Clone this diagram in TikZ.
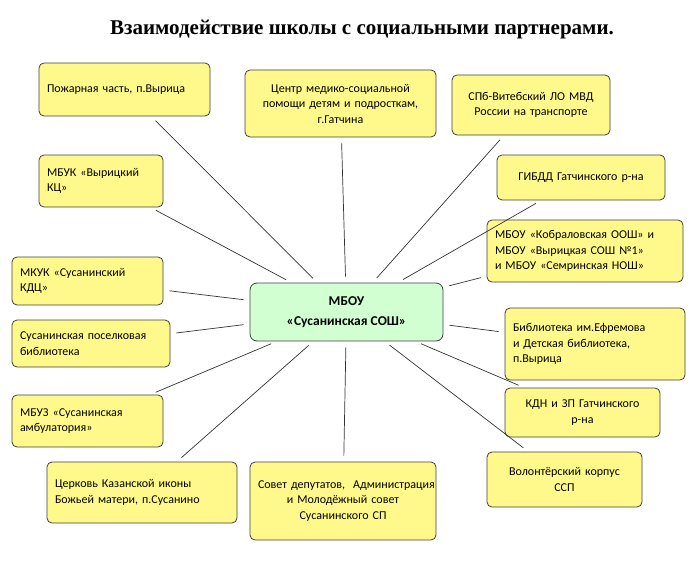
\documentclass[tikz,border=0pt]{standalone}
\usepackage{fontspec}
\setmainfont{Carlito}
\newfontfamily\titlefont{Liberation Serif}
\begin{document}
\begin{tikzpicture}[x=1pt,y=-1pt,
  bx/.style={draw=black!75,fill=yellow!45!white,rounded corners=5pt,line width=0.8pt,font=\fontsize{12}{15.5}\selectfont,inner sep=0pt},
  ln/.style={draw=black!80,line width=0.7pt,shorten >=6pt,shorten <=6pt}]
\useasboundingbox (0,0) rectangle (700,567);
\node[font=\titlefont\bfseries\fontsize{21}{23}\selectfont] (t) at (362,30) {Взаимодействие школы с социальными партнерами.};
\newcommand{\mybox}[7]{\node[bx,align=#7,minimum width=#4-#2,minimum height=#5-#3,text width=#4-#2-16] (#1) at ({(#2+#4)/2},{(#3+#5)/2}) {#6};}
\node[draw=black!75,fill=green!18!white,rounded corners=7pt,line width=0.8pt,minimum width=193,minimum height=58,align=center,font=\bfseries\fontsize{13.5}{20}\selectfont] (c) at (346.5,312) {МБОУ\\«Сусанинская СОШ»};
\mybox{a1}{39}{63}{210}{116}{Пожарная часть, п.Вырица\\[16pt]}{left}
\mybox{a2}{245}{70}{436}{137}{Центр медико-социальной\\помощи детям и подросткам,\\г.Гатчина}{center}
\mybox{a3}{452}{75}{610}{135}{СПб-Витебский ЛО МВД\\России на транспорте\\[4pt]}{center}
\mybox{a4}{39}{155}{163}{207}{МБУК «Вырицкий\\КЦ»}{left}
\mybox{a5}{497}{155}{665}{200}{ГИБДД Гатчинского р-на}{center}
\mybox{a6}{487}{220}{683}{282}{МБОУ «Кобраловская ООШ» и\\МБОУ «Вырицкая СОШ №1»\\и МБОУ «Семринская НОШ»}{left}
\mybox{a7}{12}{257}{163}{305}{МКУК «Сусанинский\\КДЦ»}{left}
\mybox{a8}{12}{320}{170}{367}{Сусанинская поселковая\\библиотека}{left}
\mybox{a9}{505}{308}{685}{380}{Библиотека им.Ефремова\\и Детская библиотека,\\п.Вырица}{left}
\mybox{a10}{12}{395}{163}{447}{МБУЗ «Сусанинская\\амбулатория»}{left}
\mybox{a11}{505}{388}{660}{437}{КДН и ЗП Гатчинского\\р-на}{center}
\mybox{a12}{47}{462}{237}{523}{Церковь Казанской иконы\\Божьей матери, п.Сусанино\\[6pt]}{left}
\mybox{a13}{250}{462}{436}{540}{\mbox{Совет депутатов,\ \ Администрация}\\и Молодёжный совет\\Сусанинского СП}{center}
\mybox{a14}{487}{452}{642}{507}{Волонтёрский корпус\\ССП}{center}
\foreach \i in {1,...,14} {\draw[ln] (a\i) -- (c);}
\end{tikzpicture}
\end{document}
